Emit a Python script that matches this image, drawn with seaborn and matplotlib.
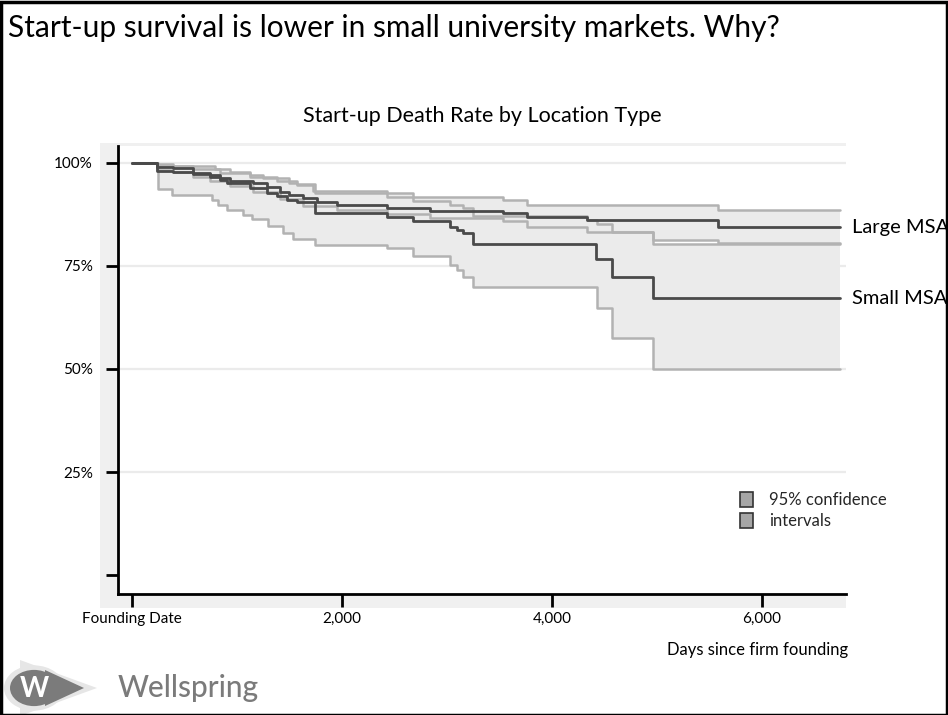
import numpy as np
import pandas as pd
import matplotlib
matplotlib.use("Agg")
import matplotlib.pyplot as plt
import seaborn as sns
from matplotlib.patches import Patch, Rectangle, Circle, Polygon

# ---------------- data ----------------
large_days = [0, 240, 390, 580, 740, 840, 930, 1150, 1290, 1410, 1500, 1630, 1760,
              1950, 2430, 2840, 3530, 3760, 4330, 5580, 6740]
large_surv = [1.0, 0.990, 0.987, 0.976, 0.971, 0.964, 0.955, 0.951, 0.942, 0.930, 0.922,
              0.914, 0.906, 0.898, 0.890, 0.884, 0.879, 0.868, 0.862, 0.844, 0.844]

large_hi_days = [0, 240, 390, 790, 930, 1120, 1250, 1500, 1570, 1720, 2430, 2680, 3530,
                 3760, 5580, 6740]
large_hi = [1.0, 0.997, 0.993, 0.985, 0.977, 0.971, 0.964, 0.951, 0.947, 0.933, 0.926,
            0.917, 0.909, 0.899, 0.886, 0.886]

large_lo_days = [0, 240, 390, 580, 740, 930, 1150, 1410, 1630, 1950, 2430, 2840, 3530,
                 3760, 4330, 4960, 5580, 6740]
large_lo = [1.0, 0.982, 0.978, 0.965, 0.955, 0.943, 0.930, 0.912, 0.895, 0.885, 0.876,
            0.866, 0.858, 0.845, 0.833, 0.813, 0.805, 0.805]

small_days = [0, 240, 390, 580, 740, 840, 905, 1120, 1290, 1380, 1480, 1570, 1740, 2430,
              2680, 3030, 3100, 3150, 3250, 4420, 4570, 4960, 6740]
small_surv = [1.0, 0.980, 0.977, 0.973, 0.966, 0.959, 0.951, 0.939, 0.927, 0.920, 0.910,
              0.904, 0.879, 0.868, 0.858, 0.845, 0.838, 0.830, 0.803, 0.767, 0.724, 0.672,
              0.672]

small_hi_days = [0, 240, 580, 840, 1120, 1380, 1570, 1740, 2430, 2680, 3030, 3150, 3250,
                 4330, 4430, 4570, 4960, 6740]
small_hi = [1.0, 0.992, 0.985, 0.975, 0.965, 0.955, 0.948, 0.928, 0.918, 0.908, 0.898,
            0.890, 0.870, 0.862, 0.852, 0.833, 0.803, 0.803]

small_lo_days = [0, 250, 380, 760, 820, 905, 1060, 1140, 1300, 1440, 1530, 1740, 2430,
                 2680, 3030, 3100, 3150, 3250, 4430, 4570, 4960, 6740]
small_lo = [1.0, 0.936, 0.922, 0.910, 0.898, 0.886, 0.874, 0.864, 0.847, 0.830, 0.816,
            0.801, 0.794, 0.773, 0.752, 0.740, 0.723, 0.700, 0.648, 0.576, 0.500, 0.500]

y_ticks = [0, 0.25, 0.50, 0.75, 1.00]
y_ticklabels = ["", "25%", "50%", "75%", "100%"]
x_ticks = [0, 2000, 4000, 6000]
x_ticklabels = ["Founding Date", "2,000", "4,000", "6,000"]
series_labels = ["Large MSA", "Small MSA"]

# ---------------- style ----------------
sns.set_theme(style="white")
plt.rcParams["font.family"] = ["Lato", "DejaVu Sans"]

W, H = 948, 715
fig = plt.figure(figsize=(W / 100, H / 100), dpi=100)
fig.patch.set_facecolor("white")


def fx(px):
    return px / W


def fy(py):
    return 1 - py / H


# light gray graph region behind the plot
fig.patches.append(Rectangle((fx(100), fy(608)), fx(846) - fx(100), fy(143) - fy(608),
                             transform=fig.transFigure, facecolor="#f0f0f0",
                             edgecolor="none", zorder=0))

ax = fig.add_axes([fx(118), fy(594), fx(846) - fx(118), fy(146) - fy(594)])
ax.set_facecolor("white")
ax.set_zorder(1)

FILL = "#ebebeb"
CI = "#b2b2b2"
DARK = "#4a4a4a"


def step_at(days, vals, t):
    idx = np.searchsorted(np.asarray(days), t, side="right") - 1
    return np.asarray(vals)[idx]


# CI bands
for lo_d, lo_v, hi_d, hi_v in [(large_lo_days, large_lo, large_hi_days, large_hi),
                               (small_lo_days, small_lo, small_hi_days, small_hi)]:
    t = np.union1d(lo_d, hi_d)
    ax.fill_between(t, step_at(lo_d, lo_v, t), step_at(hi_d, hi_v, t), step="post",
                    color=FILL, linewidth=0, zorder=1)

# gridlines (not at 0)
for yv in y_ticks[1:]:
    ax.axhline(yv, color="#ebebeb", lw=1.6, zorder=0.5)

frames = []
for name, d, v, kind in [("large_hi", large_hi_days, large_hi, "ci"),
                         ("large_lo", large_lo_days, large_lo, "ci"),
                         ("small_hi", small_hi_days, small_hi, "ci"),
                         ("small_lo", small_lo_days, small_lo, "ci"),
                         ("large", large_days, large_surv, "est"),
                         ("small", small_days, small_surv, "est")]:
    frames.append(pd.DataFrame({"day": d, "surv": v, "series": name, "kind": kind}))
df = pd.concat(frames, ignore_index=True)

sns.lineplot(data=df[df.kind == "ci"], x="day", y="surv", units="series", estimator=None,
             color=CI, lw=1.8, drawstyle="steps-post", ax=ax, zorder=2, legend=False)
sns.lineplot(data=df[df.kind == "est"], x="day", y="surv", units="series", estimator=None,
             color=DARK, lw=2.0, drawstyle="steps-post", ax=ax, zorder=3, legend=False)

ax.set_xlim(-133, 6800)
ax.set_ylim(-0.046, 1.041)
ax.set_yticks(y_ticks)
ax.set_yticklabels(y_ticklabels)
ax.set_xticks(x_ticks)
ax.set_xticklabels(x_ticklabels)
ax.set_xlabel("")
ax.set_ylabel("")
ax.tick_params(axis="both", which="both", direction="out", length=9, width=2,
               color="black", labelsize=11, labelcolor="black")
ax.tick_params(axis="y", pad=9)
ax.tick_params(axis="x", pad=4)
ax.yaxis.set_ticks_position("left")
ax.xaxis.set_ticks_position("bottom")
for s in ["top", "right"]:
    ax.spines[s].set_visible(False)
for s in ["left", "bottom"]:
    ax.spines[s].set_color("black")
    ax.spines[s].set_linewidth(2)

# end labels
ax.text(1.008, large_surv[-1], series_labels[0], transform=ax.get_yaxis_transform(),
        ha="left", va="center", fontsize=14.5, color="black", clip_on=False)
ax.text(1.008, small_surv[-1], series_labels[1], transform=ax.get_yaxis_transform(),
        ha="left", va="center", fontsize=14.5, color="black", clip_on=False)

# legend
handles = [Patch(facecolor="#a6a6a6", edgecolor="#333333", lw=1.2),
           Patch(facecolor="#a6a6a6", edgecolor="#333333", lw=1.2)]
ax.legend(handles, ["95% confidence", "intervals"], loc="upper left",
          bbox_to_anchor=(fx(740), fy(492)), bbox_transform=fig.transFigure,
          frameon=False, fontsize=12, handlelength=0.75, handleheight=1.0,
          handletextpad=1.0, labelspacing=0.3, borderpad=0, borderaxespad=0)

# titles
fig.text(fx(8), fy(28), "Start-up survival is lower in small university markets. Why?",
         ha="left", va="center", fontsize=21.5, color="black")
fig.text(fx(482), fy(116), "Start-up Death Rate by Location Type",
         ha="center", va="center", fontsize=15.5, color="black")
fig.text(fx(848), fy(650), "Days since firm founding", ha="right", va="center",
         fontsize=12, color="black")

# Wellspring logo
fig.patches.append(Polygon([(fx(20), fy(660)), (fx(97), fy(688)), (fx(20), fy(716))],
                           closed=True, transform=fig.transFigure, facecolor="#e6e6e6",
                           edgecolor="none", zorder=2))
fig.patches.append(Circle((fx(34), fy(688)), radius=30 / W, transform=fig.transFigure,
                          facecolor="#e6e6e6", edgecolor="none", zorder=2))
fig.patches.append(Polygon([(fx(45), fy(670)), (fx(84), fy(688)), (fx(45), fy(706))],
                           closed=True, transform=fig.transFigure, facecolor="#7b7b7b",
                           edgecolor="none", zorder=3))
fig.patches.append(Circle((fx(34), fy(688)), radius=24 / W, transform=fig.transFigure,
                          facecolor="#7b7b7b", edgecolor="none", zorder=3))
fig.text(fx(34), fy(689), "W", ha="center", va="center", fontsize=20, fontweight="bold",
         color="white", zorder=4)
fig.text(fx(118), fy(688), "Wellspring", ha="left", va="center", fontsize=21.5,
         color="#7b7b7b", fontweight="medium", zorder=4)

# outer slide frame
fig.patches.append(Rectangle((0.0015, 0.0), 0.997, 0.9975, transform=fig.transFigure,
                             facecolor="none", edgecolor="black", lw=2.5, zorder=10))

fig.savefig("out.png", dpi=100)
